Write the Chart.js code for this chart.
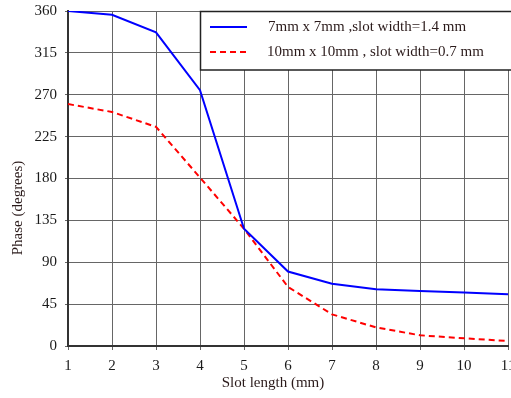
<!DOCTYPE html>
<html><head><meta charset="utf-8">
<script src="https://cdn.jsdelivr.net/npm/chart.js@4"></script>
<style>html,body{margin:0;padding:0;background:#fff}#wrap{width:511px;height:398px}</style>
</head><body><div id="wrap"><canvas id="c" width="511" height="398"></canvas></div>
<script>
const slotLength = [1,2,3,4,5,6,7,8,9,10,11];
const phase7mm = [360,356,337,275,126,80,67,61,59,57.5,55.5];
const phase10mm = [260,251.5,235.5,181,126,63.5,34,20,11.5,8.3,5.4];
const labels = ['7mm x 7mm ,slot width=1.4 mm','10mm x 10mm , slot width=0.7 mm'];
const yTicks = [0,45,90,135,180,225,270,315,360];
const xTitle = 'Slot length (mm)';
const yTitle = 'Phase (degrees)';

const legendBox = {
  id:'legendBox',
  afterDatasetsDraw(chart){
    const ctx = chart.ctx;
    ctx.save();
    ctx.fillStyle='#fff';
    ctx.fillRect(200,11,320,59);
    ctx.strokeStyle='#222'; ctx.lineWidth=1.5;
    ctx.strokeRect(200.5,11.5,320,58.5);
    chart.data.datasets.forEach((ds,i)=>{
      const y = 27 + i*25;
      ctx.beginPath();
      ctx.strokeStyle = ds.borderColor; ctx.lineWidth=2;
      ctx.setLineDash(ds.borderDash||[]);
      ctx.moveTo(210,y); ctx.lineTo(247,y); ctx.stroke();
      ctx.setLineDash([]);
      ctx.fillStyle='#2a1a1a';
      ctx.font='15px "Liberation Serif"';
      ctx.textBaseline='middle';
      ctx.fillText(ds.label, i===0?268:267, y);
    });
    ctx.fillStyle='#2a1a1a';
    ctx.font='15px "Liberation Serif"';
    ctx.textAlign='center'; ctx.textBaseline='middle';
    ctx.fillText(xTitle, 273, 383);
    ctx.translate(18,208); ctx.rotate(-Math.PI/2);
    ctx.fillText(yTitle, 0, 0);
    ctx.restore();
  }
};

new Chart(document.getElementById('c'),{
  type:'line',
  data:{datasets:[
    {label:labels[0],data:slotLength.map((x,i)=>({x,y:phase7mm[i]})),borderColor:'#0000ff',borderWidth:2,pointRadius:0,tension:0,fill:false},
    {label:labels[1],data:slotLength.map((x,i)=>({x,y:phase10mm[i]})),borderColor:'#ff0000',borderWidth:2,borderDash:[6,4],pointRadius:0,tension:0,fill:false}
  ]},
  options:{
    responsive:false,animation:false,
    layout:{padding:{top:11,right:3,left:0,bottom:0}},
    plugins:{legend:{display:false},tooltip:{enabled:false}},
    scales:{
      x:{type:'linear',min:1,max:11,
        afterFit(s){s.height=52;s.paddingLeft=0;s.paddingRight=0;},
        ticks:{stepSize:1,color:'#1a1a1a',font:{family:'"Liberation Serif"',size:15},padding:7,maxRotation:0},
        grid:{color:'#666',lineWidth:1,tickLength:4,drawTicks:true},
        border:{color:'#333',width:2}
      },
      y:{min:0,max:360,
        afterFit(s){s.width=68;s.paddingTop=0;s.paddingBottom=0;},
        afterBuildTicks(s){s.ticks=yTicks.map(v=>({value:v}));},
        ticks:{color:'#1a1a1a',font:{family:'"Liberation Serif"',size:15},padding:8},
        grid:{color:'#666',lineWidth:1,tickLength:3},
        border:{color:'#333',width:2}
      }
    }
  },
  plugins:[legendBox]
});
</script></body></html>
